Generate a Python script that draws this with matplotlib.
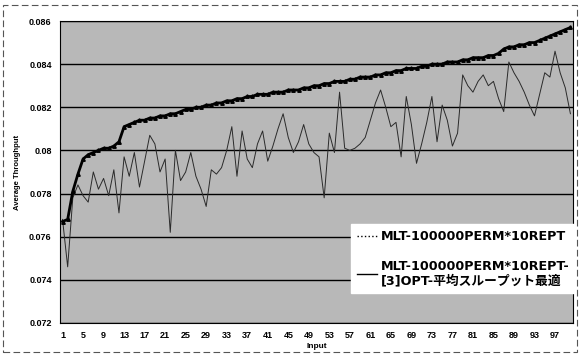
import matplotlib
matplotlib.use("Agg")
from matplotlib import pyplot as plt
from matplotlib.patches import Rectangle
from matplotlib.lines import Line2D

plt.rcParams['font.family'] = ['Liberation Sans', 'Noto Sans CJK JP', 'DejaVu Sans']

inputs = list(range(1, 101))

mlt = [0.0768, 0.0746, 0.0778, 0.0784, 0.0779, 0.0776, 0.0790, 0.0782, 0.0787, 0.0779,
       0.0791, 0.0771, 0.0797, 0.0788, 0.0799, 0.0783, 0.0795, 0.0807, 0.0803, 0.0790,
       0.0796, 0.0762, 0.0800, 0.0786, 0.0790, 0.0799, 0.0788, 0.0782, 0.0774, 0.0791,
       0.0789, 0.0792, 0.0800, 0.0811, 0.0788, 0.0809, 0.0796, 0.0792, 0.0803, 0.0809,
       0.0795, 0.0802, 0.0810, 0.0817, 0.0806, 0.0799, 0.0804, 0.0812, 0.0803, 0.0799,
       0.0797, 0.0778, 0.0808, 0.0799, 0.0827, 0.0801, 0.0800, 0.0801, 0.0803, 0.0806,
       0.0814, 0.0822, 0.0828, 0.0820, 0.0811, 0.0813, 0.0797, 0.0825, 0.0812, 0.0794,
       0.0803, 0.0813, 0.0825, 0.0804, 0.0821, 0.0814, 0.0802, 0.0808, 0.0835, 0.0830,
       0.0827, 0.0832, 0.0835, 0.0830, 0.0832, 0.0824, 0.0818, 0.0841, 0.0836, 0.0832,
       0.0827, 0.0821, 0.0816, 0.0826, 0.0836, 0.0834, 0.0846, 0.0836, 0.0829, 0.0817]

opt = [0.0767, 0.0768, 0.0781, 0.0789, 0.0796, 0.0798, 0.0799, 0.0800, 0.0801, 0.0801,
       0.0802, 0.0804, 0.0811, 0.0812, 0.0813, 0.0814, 0.0814, 0.0815, 0.0815, 0.0816,
       0.0816, 0.0817, 0.0817, 0.0818, 0.0819, 0.0819, 0.0820, 0.0820, 0.0821, 0.0821,
       0.0822, 0.0822, 0.0823, 0.0823, 0.0824, 0.0824, 0.0825, 0.0825, 0.0826, 0.0826,
       0.0826, 0.0827, 0.0827, 0.0827, 0.0828, 0.0828, 0.0828, 0.0829, 0.0829, 0.0830,
       0.0830, 0.0831, 0.0831, 0.0832, 0.0832, 0.0832, 0.0833, 0.0833, 0.0834, 0.0834,
       0.0834, 0.0835, 0.0835, 0.0836, 0.0836, 0.0837, 0.0837, 0.0838, 0.0838, 0.0838,
       0.0839, 0.0839, 0.0840, 0.0840, 0.0840, 0.0841, 0.0841, 0.0841, 0.0842, 0.0842,
       0.0843, 0.0843, 0.0843, 0.0844, 0.0844, 0.0845, 0.0847, 0.0848, 0.0848, 0.0849,
       0.0849, 0.0850, 0.0850, 0.0851, 0.0852, 0.0853, 0.0854, 0.0855, 0.0856, 0.0857]

yticks = [0.072, 0.074, 0.076, 0.078, 0.08, 0.082, 0.084, 0.086]
ytick_labels = ["0.072", "0.074", "0.076", "0.078", "0.08", "0.082", "0.084", "0.086"]
xticks = list(range(1, 101, 4))

label1 = "MLT-100000PERM*10REPT"
label2 = "MLT-100000PERM*10REPT-\n[3]OPT-平均スループット最適"

fig = plt.figure(figsize=(5.8, 3.56), dpi=100)
ax = fig.add_axes([0.1034, 0.093, 0.8845, 0.848])
ax.set_facecolor("#b8b8b8")

# outer dashed frame of the scanned chart
fig.patches.append(Rectangle((0.005, 0.01), 0.99, 0.975, transform=fig.transFigure,
                             fill=False, ls=(0, (6, 3)), lw=0.8, color="#555555"))

for y in yticks:
    ax.axhline(y, color="black", lw=1.0, zorder=1)

ax.plot(inputs, mlt, color="#2a2a2a", lw=0.7, zorder=2)
ax.plot(inputs, opt, color="black", lw=2.0, marker="^", ms=2.5, zorder=3)

ax.set_xlim(0.5, 100.5)
ax.set_ylim(0.072, 0.086)
ax.set_yticks(yticks)
ax.set_yticklabels(ytick_labels)
ax.set_xticks(xticks)
ax.tick_params(length=0, labelsize=6.5, pad=6)
for t in ax.get_xticklabels() + ax.get_yticklabels():
    t.set_fontweight("bold")

ax.set_xlabel("Input", fontsize=6, fontweight="bold", labelpad=2)
ax.set_ylabel("Average Throughput", fontsize=5.5, fontweight="bold", labelpad=6)

for s in ax.spines.values():
    s.set_color("black")
    s.set_linewidth(0.8)

handles = [Line2D([], [], color="black", lw=1.0, ls=":"),
           Line2D([], [], color="black", lw=1.0)]
leg = ax.legend(handles, [label1, label2], loc="lower right", bbox_to_anchor=(1.012, 0.085),
                prop={"family": ["DejaVu Sans", "Noto Sans CJK JP"], "weight": "bold", "size": 9.2},
                frameon=True, fancybox=False, handlelength=1.6, handletextpad=0.3,
                labelspacing=1.3, borderpad=0.45, borderaxespad=0.3)
leg.get_frame().set_edgecolor("white")
leg.get_frame().set_facecolor("white")
leg.get_frame().set_alpha(1)

fig.savefig("out.png", dpi=100)
